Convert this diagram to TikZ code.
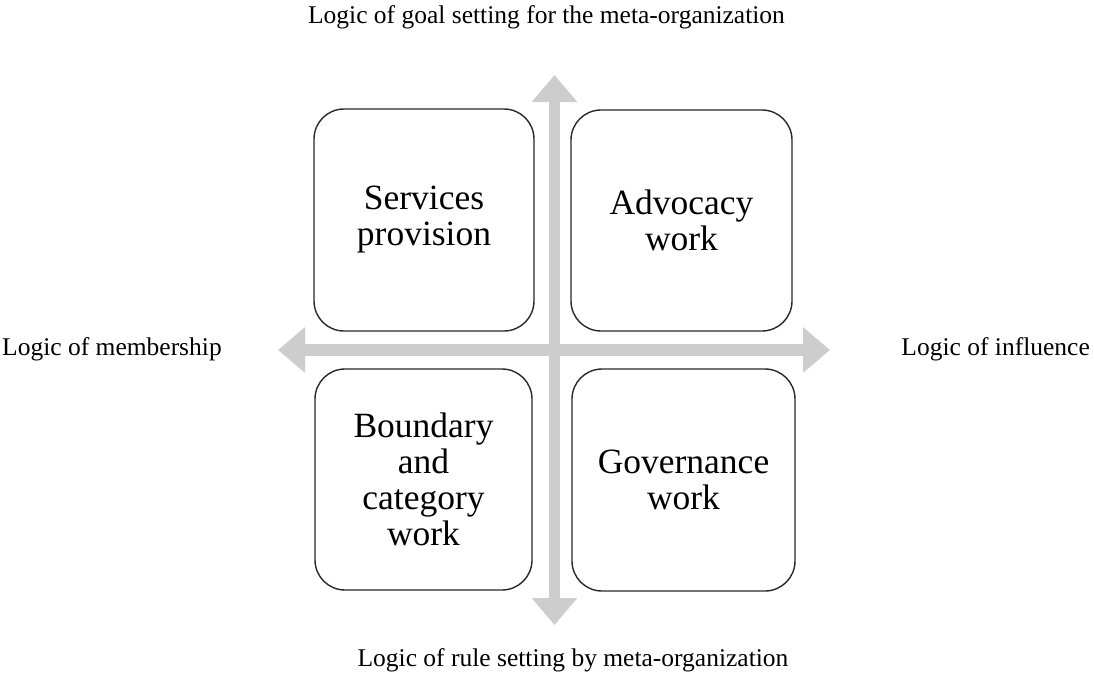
\documentclass[tikz,border=0pt]{standalone}
\usepackage{fontspec}
\setmainfont{Liberation Serif}
\usetikzlibrary{arrows.meta}
\definecolor{axisgray}{RGB}{205,205,205}
\definecolor{boxline}{RGB}{40,40,40}
\tikzset{
  quad/.style={draw=boxline, line width=1.4pt, rounded corners=30pt, fill=white,
    align=center, inner sep=0pt, font=\fontsize{35.5}{36}\selectfont},
  axis/.style={draw=axisgray, line width=11.5pt,
    {Triangle[width=44pt,length=27pt]}-{Triangle[width=44pt,length=27pt]}},
  lbl/.style={font=\fontsize{25.5}{28}\selectfont, inner sep=0pt}
}
\begin{document}
\begin{tikzpicture}[x=1pt,y=-1pt]
\useasboundingbox (0,0) rectangle (1094,675);
% axes
\coordinate (vtop) at (554.5,75);
\coordinate (vbot) at (554.5,625);
\coordinate (hleft) at (278,350);
\coordinate (hright) at (830,350);
\draw[axis] (vbot) -- (vtop);
\draw[axis] (hleft) -- (hright);
% boxes
\node[quad, minimum width=220pt, minimum height=222pt] (sp) at (424,220) {Services\\provision};
\node[quad, minimum width=221pt, minimum height=221pt] (aw) at (681.5,220.5) {Advocacy\\work};
\node[quad, minimum width=217pt, minimum height=221pt] (bc) at (423.5,479.5) {Boundary\\and\\category\\work};
\node[quad, minimum width=223pt, minimum height=222pt] (gw) at (683.5,480) {Governance\\work};
% labels
\node[lbl, anchor=base] (lt) at (546.5,23) {Logic of goal setting for the meta-organization};
\node[lbl, anchor=base] (lb) at (573,666) {Logic of rule setting by meta-organization};
\node[lbl, anchor=base west] (ll) at (2,355) {Logic of membership};
\node[lbl, anchor=base east] (lr) at (1090,355) {Logic of influence};
\end{tikzpicture}
\end{document}
